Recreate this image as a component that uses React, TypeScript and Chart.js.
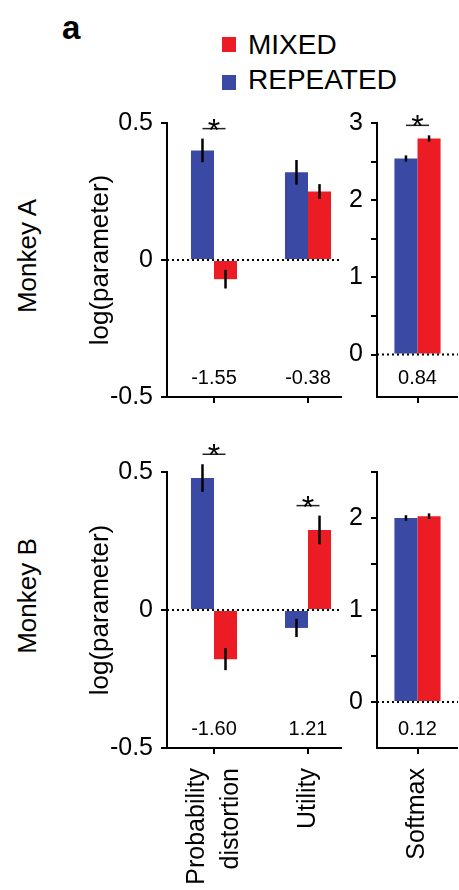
import React, { useEffect, useRef } from 'react';
import { Chart, registerables } from 'chart.js';

Chart.register(...registerables);

const FONT = "'Liberation Sans', Arial, Helvetica, sans-serif";
const BLUE = '#3a49a3';
const RED = '#ec1c24';

// ---- data ----
const paramCategories = [['Probability', 'distortion'], ['Utility']];
const softmaxCategories = [['Softmax']];

const monkeyARepeated = [0.40, 0.32];
const monkeyARepeatedErr = [0.043, 0.045];
const monkeyAMixed = [-0.07, 0.25];
const monkeyAMixedErr = [0.034, 0.027];
const monkeyARatios = ['-1.55', '-0.38'];
const monkeyAStars = [true, false];

const monkeyASoftmaxRepeated = [2.54];
const monkeyASoftmaxRepeatedErr = [0.04];
const monkeyASoftmaxMixed = [2.80];
const monkeyASoftmaxMixedErr = [0.04];
const monkeyASoftmaxRatios = ['0.84'];
const monkeyASoftmaxStars = [true];

const monkeyBRepeated = [0.478, -0.065];
const monkeyBRepeatedErr = [0.05, 0.033];
const monkeyBMixed = [-0.178, 0.29];
const monkeyBMixedErr = [0.04, 0.052];
const monkeyBRatios = ['-1.60', '1.21'];
const monkeyBStars = [true, true];

const monkeyBSoftmaxRepeated = [2.0];
const monkeyBSoftmaxRepeatedErr = [0.03];
const monkeyBSoftmaxMixed = [2.02];
const monkeyBSoftmaxMixedErr = [0.03];
const monkeyBSoftmaxRatios = ['0.12'];
const monkeyBSoftmaxStars = [false];

const paramTicks = [-0.5, 0, 0.5];

// ---- plugin: zero line, x axis line, error bars, ratio numbers, stars, category labels ----
const decorPlugin: any = {
  id: 'decor',
  afterDatasetsDraw(chart: any, _args: any, opts: any) {
    const { ctx, chartArea } = chart;
    const y = chart.scales.y;
    const xs = chart.scales.x;
    const xEnd = chartArea.right - (opts.trimRight || 0);
    ctx.save();
    ctx.strokeStyle = '#000';
    // zero dotted line
    const y0 = y.getPixelForValue(0);
    ctx.lineWidth = 2;
    ctx.setLineDash([2, 3]);
    ctx.beginPath();
    ctx.moveTo(chartArea.left, y0);
    ctx.lineTo(xEnd, y0);
    ctx.stroke();
    ctx.setLineDash([]);
    // x axis line
    ctx.lineWidth = 2;
    ctx.beginPath();
    ctx.moveTo(chartArea.left - 1, chartArea.bottom);
    ctx.lineTo(xEnd, chartArea.bottom);
    ctx.stroke();
    // error bars
    ctx.lineWidth = 2.5;
    chart.data.datasets.forEach((ds: any, i: number) => {
      const meta = chart.getDatasetMeta(i);
      meta.data.forEach((bar: any, j: number) => {
        const v = ds.data[j];
        const e = ds.errors[j];
        ctx.beginPath();
        ctx.moveTo(bar.x, y.getPixelForValue(v + e));
        ctx.lineTo(bar.x, y.getPixelForValue(v - e));
        ctx.stroke();
      });
    });
    // ratio numbers
    ctx.fillStyle = '#000';
    ctx.font = `20px ${FONT}`;
    ctx.textAlign = 'center';
    ctx.textBaseline = 'middle';
    (opts.ratios || []).forEach((t: string, j: number) => {
      ctx.fillText(t, xs.getPixelForValue(j), chartArea.bottom - 19);
    });
    // significance stars
    (opts.stars || []).forEach((s: boolean, j: number) => {
      if (!s) return;
      const ds = chart.data.datasets;
      const b0 = chart.getDatasetMeta(0).data[j];
      const b1 = chart.getDatasetMeta(1).data[j];
      const t0 = y.getPixelForValue(Math.max(ds[0].data[j] + ds[0].errors[j], 0));
      const t1 = y.getPixelForValue(Math.max(ds[1].data[j] + ds[1].errors[j], 0));
      const ly = Math.min(t0, t1) - 10;
      ctx.strokeStyle = '#222';
      ctx.lineWidth = 1.5;
      ctx.beginPath();
      ctx.moveTo(b0.x, ly);
      ctx.lineTo(b1.x, ly);
      ctx.stroke();
      ctx.font = `32px ${FONT}`;
      ctx.textAlign = 'center';
      ctx.textBaseline = 'alphabetic';
      ctx.fillText('*', (b0.x + b1.x) / 2, ly + 12);
    });
    // rotated category labels, lines centred on the tick
    if (opts.showXLabels) {
      const lh = 34;
      ctx.font = `25px ${FONT}`;
      ctx.textAlign = 'right';
      ctx.textBaseline = 'middle';
      chart.data.labels.forEach((lab: any, j: number) => {
        const lines = Array.isArray(lab) ? lab : [lab];
        const cx = xs.getPixelForValue(j);
        lines.forEach((ln: string, k: number) => {
          const lx = cx + (k - (lines.length - 1) / 2) * lh;
          ctx.save();
          ctx.translate(lx, chartArea.bottom + 20);
          ctx.rotate(-Math.PI / 2);
          ctx.fillText(ln, 0, 0);
          ctx.restore();
        });
      });
    }
    ctx.restore();
  },
};

function buildConfig(p: any): any {
  return {
    type: 'bar',
    data: {
      labels: p.categories,
      datasets: [
        {
          label: 'REPEATED',
          data: p.repeated,
          errors: p.repeatedErr,
          backgroundColor: BLUE,
          borderWidth: 0,
          barPercentage: 1,
          categoryPercentage: p.catPct,
        },
        {
          label: 'MIXED',
          data: p.mixed,
          errors: p.mixedErr,
          backgroundColor: RED,
          borderWidth: 0,
          barPercentage: 1,
          categoryPercentage: p.catPct,
        },
      ],
    },
    plugins: [decorPlugin],
    options: {
      responsive: false,
      maintainAspectRatio: false,
      animation: false,
      layout: { padding: { top: p.padTop, right: p.padRight, left: 0, bottom: 0 } },
      plugins: {
        legend: { display: false },
        tooltip: { enabled: false },
        decor: { ratios: p.ratios, stars: p.stars, trimRight: p.trimRight, showXLabels: p.showXLabels },
      },
      scales: {
        x: {
          offset: true,
          ticks: {
            autoSkip: false,
            maxRotation: 0,
            color: '#000',
            font: { family: FONT, size: 25 },
            callback: () => '',
          },
          grid: {
            display: true,
            drawOnChartArea: false,
            drawTicks: true,
            tickLength: 6,
            offset: false,
            color: '#000',
            lineWidth: 2,
          },
          border: { display: false },
          afterFit: (s: any) => {
            s.height = p.xHeight;
          },
        },
        y: {
          min: p.yMin,
          max: p.yMax,
          afterBuildTicks: (s: any) => {
            s.ticks = s.ticks.filter((t: any) => t.value >= p.minTick - 1e-9);
          },
          ticks: {
            stepSize: 0.5,
            padding: 8,
            color: '#000',
            font: { family: FONT, size: 25 },
            callback: (v: any) => {
              if (p.intLabels) return Number.isInteger(v) ? String(v) : '';
              return paramTicks.includes(v) ? String(v) : '';
            },
          },
          grid: {
            display: true,
            drawOnChartArea: false,
            drawTicks: true,
            tickLength: 6,
            color: '#000',
            lineWidth: 2,
          },
          border: { display: true, color: '#000', width: 2 },
          title: {
            display: !!p.yTitle,
            text: p.yTitle || '',
            color: '#000',
            font: { family: FONT, size: 26 },
            padding: { top: 4, bottom: 0 },
          },
          afterFit: (s: any) => {
            s.width = p.yWidth;
          },
        },
      },
    },
  };
}

function Panel({ left, top, width, height, params }: any) {
  const ref = useRef<HTMLCanvasElement | null>(null);
  useEffect(() => {
    const chart = new Chart(ref.current as HTMLCanvasElement, buildConfig(params));
    return () => chart.destroy();
  }, []);
  return (
    <canvas
      ref={ref}
      width={width}
      height={height}
      style={{ position: 'absolute', left, top, width, height }}
    />
  );
}

const textStyle: any = { position: 'absolute', fontFamily: FONT, color: '#000', whiteSpace: 'nowrap' };

export default function App() {
  const paramBase = {
    categories: paramCategories,
    catPct: 0.49,
    yMin: -0.5,
    yMax: 0.5,
    minTick: -0.5,
    intLabels: false,
    yTitle: 'log(parameter)',
    yWidth: 86,
    padRight: 5,
    trimRight: 13,
  };
  const softBase = {
    categories: softmaxCategories,
    catPct: 0.57,
    minTick: 0,
    intLabels: true,
    yTitle: '',
    yWidth: 47,
    padRight: 1,
    trimRight: 0,
  };
  return (
    <div style={{ position: 'absolute', left: 0, top: 0, width: 459, height: 890, background: '#fff', overflow: 'hidden' }}>
      <div style={{ ...textStyle, left: 62, top: 11, fontSize: 33, lineHeight: '33px', fontWeight: 'bold' }}>a</div>
      <div style={{ position: 'absolute', left: 222, top: 37, width: 14, height: 15, background: RED }} />
      <div style={{ ...textStyle, left: 248, top: 31, fontSize: 28, lineHeight: '28px' }}>MIXED</div>
      <div style={{ position: 'absolute', left: 222, top: 75, width: 14, height: 15, background: BLUE }} />
      <div style={{ ...textStyle, left: 248, top: 66, fontSize: 28, lineHeight: '28px' }}>REPEATED</div>
      <div style={{ ...textStyle, left: 27, top: 256, fontSize: 26, lineHeight: '26px', transform: 'translate(-50%, -50%) rotate(-90deg)' }}>Monkey A</div>
      <div style={{ ...textStyle, left: 27, top: 596, fontSize: 26, lineHeight: '26px', transform: 'translate(-50%, -50%) rotate(-90deg)' }}>Monkey B</div>

      <Panel
        left={81}
        top={100}
        width={279}
        height={320}
        params={{
          ...paramBase,
          repeated: monkeyARepeated,
          repeatedErr: monkeyARepeatedErr,
          mixed: monkeyAMixed,
          mixedErr: monkeyAMixedErr,
          ratios: monkeyARatios,
          stars: monkeyAStars,
          showXLabels: false,
          padTop: 22,
          xHeight: 18,
        }}
      />
      <Panel
        left={330}
        top={100}
        width={129}
        height={320}
        params={{
          ...softBase,
          yMin: -0.55,
          yMax: 3,
          repeated: monkeyASoftmaxRepeated,
          repeatedErr: monkeyASoftmaxRepeatedErr,
          mixed: monkeyASoftmaxMixed,
          mixedErr: monkeyASoftmaxMixedErr,
          ratios: monkeyASoftmaxRatios,
          stars: monkeyASoftmaxStars,
          showXLabels: false,
          padTop: 23,
          xHeight: 18,
        }}
      />
      <Panel
        left={81}
        top={430}
        width={279}
        height={460}
        params={{
          ...paramBase,
          repeated: monkeyBRepeated,
          repeatedErr: monkeyBRepeatedErr,
          mixed: monkeyBMixed,
          mixedErr: monkeyBMixedErr,
          ratios: monkeyBRatios,
          stars: monkeyBStars,
          showXLabels: true,
          padTop: 42,
          xHeight: 142,
        }}
      />
      <Panel
        left={330}
        top={430}
        width={129}
        height={460}
        params={{
          ...softBase,
          yMin: -0.5,
          yMax: 2.5,
          repeated: monkeyBSoftmaxRepeated,
          repeatedErr: monkeyBSoftmaxRepeatedErr,
          mixed: monkeyBSoftmaxMixed,
          mixedErr: monkeyBSoftmaxMixedErr,
          ratios: monkeyBSoftmaxRatios,
          stars: monkeyBSoftmaxStars,
          showXLabels: true,
          padTop: 42,
          xHeight: 142,
        }}
      />
    </div>
  );
}
